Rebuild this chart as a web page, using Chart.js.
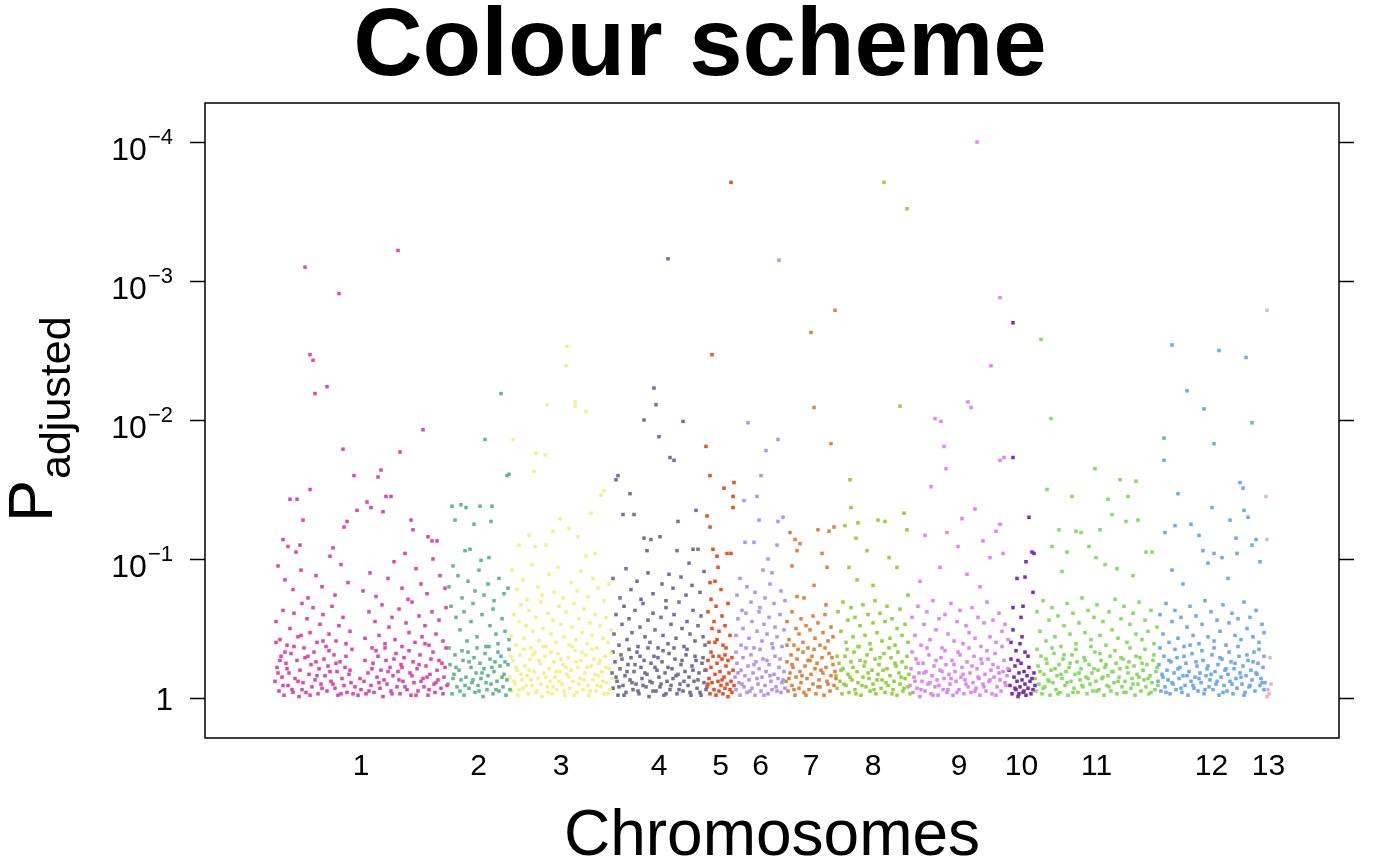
<!DOCTYPE html>
<html>
<head>
<meta charset="utf-8">
<script src="https://cdn.jsdelivr.net/npm/chart.js@4/dist/chart.umd.min.js"></script>
<style>
  html, body { margin: 0; padding: 0; background: #fff; }
  #wrap { width: 1400px; height: 866px; }
</style>
</head>
<body>
<div id="wrap"><canvas id="manhattanChart" width="1400" height="866"></canvas></div>
<script>
// Chromosome layout (cumulative position units)
const chromosomes = ['1', '2', '3', '4', '5', '6', '7', '8', '9', '10', '11', '12', '13'];
const chrStart = [0, 172, 235, 337, 431, 460, 511, 561, 635, 733, 760, 883, 990];
const chrEnd = [172, 235, 337, 431, 460, 511, 561, 635, 733, 760, 883, 990, 997];
const chrColors = ['#DD4BAA', '#66B98E', '#F5F08C', '#76709A', '#E8522A', '#B096F2', '#DF8447',
                   '#94D240', '#DC88EE', '#7B2FB5', '#89DB66', '#72A8EE', '#DBBCC6'];

// y axis: -log10(P adjusted)
const yTicks = [0, 1, 2, 3, 4];
const yTickExp = ['', '\u22121', '\u22122', '\u22123', '\u22124'];

// [position, -log10(P adjusted)] per chromosome
const chr1Points = [
  [30,3.10],[64,2.91],[123,3.22],[35,2.47],[38,2.43],[52,2.24],[40,2.19],[68,1.79],[148,1.93],[125,1.77],
  [79,1.60],[106,1.64],[103,1.59],[35,1.50],[15,1.43],[22,1.43],[92,1.41],[111,1.45],[82,1.35],[96,1.37],
  [108,1.34],[116,1.45],[69,1.23],[72,1.27],[136,1.28],[138,1.21],[153,1.16],[157,1.13],[162,1.13],[8,1.14],
  [13,1.09],[25,1.10],[28,1.28],
  [3,0.95],[10,0.85],[18,0.78],[26,0.92],[33,0.72],[41,0.88],[47,0.80],[55,1.02],[60,0.74],[66,0.96],
  [73,0.83],[88,0.77],[95,0.90],[101,0.73],[113,0.86],[119,0.98],[127,0.79],[133,0.71],[141,0.93],[146,0.82],
  [152,0.75],[158,1.00],[165,0.88],[170,0.79],[21,1.05],[58,1.08],[130,1.04],
  [1,0.55],[5,0.42],[8,0.63],[12,0.38],[15,0.50],[19,0.61],[23,0.44],[27,0.68],[29,0.36],[32,0.57],
  [35,0.47],[38,0.65],[42,0.40],[45,0.53],[48,0.60],[51,0.37],[54,0.46],[57,0.66],[61,0.41],[64,0.52],
  [68,0.58],[71,0.39],[75,0.48],[90,0.43],[94,0.62],[97,0.36],[100,0.55],[104,0.45],[107,0.67],[110,0.39],
  [114,0.51],[117,0.58],[120,0.42],[124,0.64],[127,0.37],[131,0.54],[134,0.47],[137,0.69],[140,0.40],[144,0.59],
  [147,0.44],[150,0.52],[154,0.38],[157,0.62],[161,0.46],[164,0.56],[168,0.41],[171,0.65],
  [0,0.12],[2,0.22],[4,0.05],[6,0.30],[7,0.15],[9,0.02],[11,0.25],[13,0.09],[14,0.18],[16,0.32],
  [17,0.06],[20,0.14],[22,0.27],[24,0.01],[25,0.20],[28,0.11],[30,0.29],[31,0.04],[34,0.17],[36,0.24],
  [37,0.08],[39,0.33],[40,0.13],[43,0.03],[44,0.21],[46,0.10],[49,0.28],[50,0.16],[52,0.05],[53,0.23],
  [56,0.12],[59,0.31],[60,0.07],[62,0.19],[63,0.02],[65,0.26],[67,0.14],[69,0.09],[70,0.22],[72,0.04],
  [74,0.17],[76,0.11],[78,0.03],[80,0.08],[83,0.02],[86,0.06],[89,0.12],[91,0.03],[93,0.18],[96,0.09],
  [98,0.25],[99,0.04],[102,0.15],[103,0.30],[105,0.07],[106,0.20],[108,0.01],[109,0.13],[111,0.27],[112,0.10],
  [115,0.22],[116,0.05],[118,0.16],[121,0.32],[122,0.08],[123,0.19],[125,0.03],[126,0.24],[128,0.12],[129,0.29],
  [132,0.06],[135,0.18],[136,0.02],[138,0.26],[139,0.11],[142,0.21],[143,0.05],[145,0.31],[148,0.14],[149,0.08],
  [151,0.23],[153,0.02],[155,0.17],[156,0.28],[159,0.10],[160,0.04],[162,0.20],[163,0.13],[166,0.07],[167,0.25],
  [169,0.15],[172,0.09],
  [1,0.40],[3,0.18],[5,0.27],[8,0.09],[10,0.33],[12,0.21],[18,0.04],[19,0.37],[23,0.12],[26,0.45],
  [27,0.06],[33,0.30],[35,0.02],[41,0.26],[42,0.16],[47,0.07],[48,0.41],[54,0.34],[55,0.19],[58,0.10],
  [61,0.25],[66,0.03],[71,0.30],[75,0.20],[77,0.35],[85,0.14],[90,0.27],[94,0.05],[97,0.21],[101,0.34],
  [104,0.11],[110,0.36],[113,0.19],[117,0.03],[119,0.28],[124,0.13],[127,0.22],[130,0.08],[134,0.34],[137,0.16],
  [141,0.02],[144,0.24],[146,0.12],[150,0.39],[152,0.15],[154,0.06],[158,0.33],[161,0.11],[164,0.27],[168,0.03],
  [170,0.22],[171,0.36]
];
const chr2Points = [
  [226,2.19],[210,1.86],[232,1.60],[234,1.61],[177,1.38],[186,1.39],[205,1.38],[191,1.37],[199,1.25],[217,1.38],
  [216,1.27],[180,1.28],[190,1.06],[195,1.07],[206,0.99],[214,1.01],[178,0.95],
  [174,0.80],[183,0.88],[187,0.72],[193,0.84],[200,0.77],[204,0.92],[209,0.74],[213,0.82],[219,0.70],[224,0.86],
  [229,0.75],[233,0.79],[176,0.66],[181,0.58],[185,0.49],[189,0.62],[192,0.41],[196,0.55],[198,0.68],[202,0.44],
  [207,0.60],[211,0.37],[215,0.52],[218,0.64],[221,0.46],[223,0.39],[227,0.57],[230,0.48],[234,0.42],
  [173,0.10],[175,0.24],[177,0.03],[179,0.17],[180,0.31],[182,0.08],[184,0.20],[186,0.13],[188,0.27],[189,0.02],
  [191,0.15],[193,0.33],[194,0.07],[196,0.22],[197,0.11],[199,0.29],[200,0.04],[201,0.18],[203,0.09],[205,0.25],
  [206,0.14],[208,0.01],[209,0.21],[210,0.32],[212,0.06],[213,0.16],[215,0.28],[216,0.10],[218,0.03],[219,0.19],
  [220,0.26],[222,0.12],[224,0.05],[225,0.23],[226,0.30],[228,0.08],[229,0.17],[231,0.02],[232,0.13],[233,0.24],
  [235,0.06],
  [174,0.36],[178,0.14],[181,0.22],[185,0.05],[187,0.34],[190,0.09],[194,0.26],[198,0.13],[202,0.36],[204,0.05],
  [207,0.18],[211,0.11],[214,0.37],[217,0.22],[221,0.06],[223,0.33],[227,0.15],[230,0.26],[234,0.35]
];
const chr3Points = [
  [292,2.53],[291,2.39],[300,2.13],[300,2.10],[272,2.11],[311,2.06],[238,1.86],[261,1.76],[270,1.75],[259,1.63],
  [329,1.49],[326,1.46],[316,1.33],[285,1.29],[294,1.22],[278,1.20],[254,1.17],[244,1.10],[260,1.09],[271,1.10],
  [303,1.16],[320,1.04],[311,1.02],
  [237,0.92],[242,0.78],[248,0.85],[252,0.71],[257,0.96],[263,0.80],[267,0.74],[274,0.89],[279,0.76],[283,0.94],
  [288,0.72],[296,0.83],[302,0.77],[306,0.91],[313,0.73],[318,0.86],[323,0.79],[329,0.70],[334,0.82],
  [236,0.45],[239,0.60],[241,0.38],[244,0.55],[246,0.67],[249,0.43],[251,0.52],[254,0.63],[256,0.36],[258,0.48],
  [261,0.58],[264,0.41],[266,0.69],[268,0.50],[271,0.37],[273,0.61],[276,0.46],[278,0.56],[281,0.40],[284,0.66],
  [286,0.53],[289,0.44],[291,0.62],[294,0.38],[297,0.51],[299,0.68],[301,0.42],[304,0.57],[307,0.47],[309,0.64],
  [312,0.39],[315,0.54],[317,0.45],[320,0.60],[322,0.36],[325,0.52],[328,0.43],[331,0.58],[333,0.40],[336,0.49],
  [235,0.15],[237,0.05],[238,0.27],[240,0.10],[242,0.20],[243,0.02],[245,0.31],[247,0.13],[248,0.07],[250,0.23],
  [252,0.16],[253,0.03],[255,0.28],[257,0.09],[259,0.19],[260,0.33],[262,0.05],[263,0.14],[265,0.25],[267,0.01],
  [269,0.18],[270,0.30],[272,0.08],[274,0.21],[275,0.12],[277,0.03],[279,0.26],[280,0.15],[282,0.06],[283,0.32],
  [285,0.19],[287,0.10],[288,0.24],[290,0.02],[292,0.17],[293,0.29],[295,0.07],[296,0.20],[298,0.12],[300,0.34],
  [302,0.04],[303,0.22],[305,0.14],[306,0.27],[308,0.06],[310,0.18],[311,0.31],[313,0.09],[314,0.02],[316,0.23],
  [318,0.13],[319,0.28],[321,0.05],[323,0.16],[324,0.25],[326,0.08],[327,0.19],[329,0.03],[330,0.30],[332,0.11],
  [334,0.21],[335,0.06],[337,0.14],
  [236,0.30],[239,0.12],[241,0.22],[244,0.06],[246,0.17],[249,0.35],[251,0.09],[254,0.20],[256,0.13],[258,0.31],
  [261,0.04],[264,0.27],[266,0.10],[268,0.37],[271,0.15],[273,0.04],[276,0.33],[278,0.08],[281,0.19],[284,0.12],
  [286,0.28],[289,0.05],[291,0.22],[294,0.15],[297,0.37],[299,0.02],[301,0.26],[304,0.10],[307,0.33],[309,0.13],
  [312,0.22],[315,0.05],[317,0.35],[320,0.17],[322,0.09],[325,0.27],[328,0.12],[331,0.22],[333,0.03],[336,0.32]
];
const chr4Points = [
  [393,3.16],[379,2.23],[381,2.11],[384,1.88],[369,2.00],[408,1.99],[395,1.73],[399,1.71],[343,1.60],[341,1.57],
  [355,1.47],[348,1.32],[359,1.32],[376,1.14],[369,1.15],[403,1.27],[421,1.35],[418,1.07],[423,1.07],[385,1.16],
  [402,1.06],[414,0.97],[394,0.89],[372,1.06],
  [338,0.86],[345,0.72],[351,0.93],[356,0.78],[362,0.84],[366,0.71],[373,0.90],[378,0.75],[387,0.82],[391,0.70],
  [398,0.79],[406,0.87],[411,0.74],[417,0.81],[425,0.76],[429,0.91],
  [339,0.46],[341,0.60],[344,0.38],[347,0.53],[349,0.66],[352,0.42],[354,0.57],[357,0.47],[360,0.63],[363,0.37],
  [365,0.51],[368,0.68],[370,0.44],[373,0.56],[375,0.40],[378,0.61],[380,0.49],[383,0.36],[386,0.58],[388,0.45],
  [391,0.65],[393,0.39],[396,0.53],[399,0.60],[401,0.43],[404,0.69],[407,0.50],[409,0.37],[412,0.55],[415,0.46],
  [418,0.63],[420,0.41],[423,0.52],[426,0.59],[428,0.44],[430,0.38],
  [337,0.18],[338,0.07],[340,0.26],[342,0.12],[343,0.02],[345,0.21],[346,0.31],[348,0.09],[350,0.16],[351,0.04],
  [353,0.24],[355,0.13],[356,0.29],[358,0.06],[359,0.19],[361,0.10],[362,0.33],[364,0.03],[366,0.22],[367,0.14],
  [369,0.27],[371,0.08],[372,0.17],[374,0.01],[376,0.25],[377,0.11],[379,0.30],[381,0.05],[382,0.20],[384,0.15],
  [385,0.08],[387,0.26],[389,0.02],[390,0.18],[392,0.12],[394,0.32],[395,0.06],[397,0.21],[398,0.14],[400,0.28],
  [402,0.03],[403,0.17],[405,0.10],[406,0.24],[408,0.05],[410,0.19],[411,0.31],[413,0.09],[414,0.15],[416,0.02],
  [417,0.23],[419,0.12],[421,0.27],[422,0.07],[424,0.18],[425,0.04],[427,0.25],[429,0.11],[430,0.20],[431,0.06],
  [338,0.33],[341,0.15],[344,0.08],[347,0.28],[349,0.02],[352,0.19],[354,0.35],[357,0.11],[360,0.24],[363,0.05],
  [365,0.30],[368,0.09],[370,0.18],[373,0.36],[375,0.12],[378,0.05],[380,0.22],[383,0.29],[386,0.10],[388,0.34],
  [391,0.03],[393,0.22],[396,0.09],[399,0.36],[401,0.16],[404,0.06],[407,0.27],[409,0.12],[412,0.35],[415,0.04],
  [418,0.20],[420,0.30],[423,0.13],[426,0.02],[428,0.29]
];
const chr5Points = [
  [456,3.71],[437,2.47],[431,1.81],[435,1.60],[449,1.51],[459,1.55],[458,1.45],[458,1.37],[432,1.31],[435,1.23],
  [438,1.07],[442,1.02],[452,1.04],[456,1.04],[443,0.94],[440,0.84],[435,0.83],[446,0.78],
  [433,0.62],[436,0.71],[439,0.55],[441,0.66],[444,0.48],[447,0.59],[450,0.52],[453,0.68],[455,0.45],[437,0.50],
  [442,0.42],[448,0.38],[434,0.40],[451,0.36],
  [431,0.20],[432,0.08],[433,0.27],[434,0.14],[435,0.03],[436,0.22],[437,0.11],[438,0.30],[439,0.06],[440,0.17],
  [441,0.02],[442,0.25],[443,0.12],[444,0.05],[445,0.19],[446,0.09],[447,0.28],[448,0.03],[449,0.15],[450,0.07],
  [451,0.23],[452,0.10],[453,0.01],[454,0.18],[455,0.06],[456,0.12],[457,0.04],[458,0.20],[459,0.09],
  [433,0.10],[436,0.33],[440,0.40],[444,0.30],[447,0.13],[450,0.31],[453,0.27],[457,0.29]
];
const chr6Points = [
  [504,3.15],[473,1.98],[503,1.86],[491,1.78],[486,1.60],[482,1.45],[469,1.42],[484,1.28],[503,1.27],[508,1.30],
  [470,1.12],[479,1.12],[502,1.10],[493,1.00],[488,0.92],[465,0.86],[497,0.90],
  [462,0.74],[467,0.63],[472,0.80],[476,0.69],[480,0.76],[485,0.65],[490,0.72],[495,0.82],[499,0.68],[506,0.77],
  [510,0.70],
  [461,0.45],[463,0.57],[466,0.38],[468,0.50],[471,0.61],[474,0.43],[477,0.55],[479,0.36],[482,0.48],[484,0.62],
  [487,0.41],[489,0.53],[492,0.46],[494,0.58],[497,0.39],[500,0.51],[502,0.44],[505,0.60],[507,0.37],[509,0.49],
  [460,0.15],[461,0.06],[462,0.25],[464,0.11],[465,0.02],[466,0.20],[468,0.29],[469,0.08],[470,0.16],[472,0.04],
  [473,0.23],[474,0.13],[476,0.31],[477,0.07],[478,0.18],[480,0.02],[481,0.26],[483,0.10],[484,0.21],[486,0.05],
  [487,0.15],[488,0.28],[490,0.09],[491,0.19],[493,0.03],[494,0.24],[496,0.12],[497,0.06],[499,0.17],[500,0.30],
  [501,0.08],[503,0.14],[504,0.22],[506,0.04],[507,0.11],[509,0.19],[510,0.07],
  [461,0.33],[463,0.18],[467,0.10],[471,0.36],[475,0.05],[479,0.24],[482,0.14],[485,0.35],[489,0.02],[492,0.27],
  [495,0.16],[498,0.36],[502,0.05],[505,0.28],[508,0.13]
];
const chr7Points = [
  [560,2.79],[536,2.63],[539,2.09],[556,1.83],[559,1.23],[543,1.21],[554,1.20],[515,1.19],[520,1.14],[525,1.11],
  [522,1.06],[547,1.04],[517,0.95],[552,0.94],[539,0.81],[522,0.73],[551,0.67],[529,0.72],
  [512,0.55],[514,0.42],[517,0.62],[519,0.38],[521,0.50],[524,0.46],[526,0.57],[528,0.40],[531,0.52],[533,0.36],
  [535,0.49],[538,0.59],[540,0.43],[543,0.54],[545,0.38],[548,0.47],[550,0.60],[553,0.41],[556,0.51],[558,0.44],
  [511,0.12],[512,0.26],[513,0.05],[515,0.18],[516,0.31],[517,0.09],[518,0.22],[520,0.02],[521,0.15],[522,0.28],
  [524,0.07],[525,0.19],[526,0.11],[528,0.33],[529,0.04],[530,0.23],[532,0.14],[533,0.27],[534,0.06],[536,0.17],
  [537,0.30],[538,0.10],[540,0.21],[541,0.03],[542,0.25],[544,0.13],[545,0.08],[547,0.29],[548,0.18],[549,0.02],
  [551,0.22],[552,0.12],[554,0.32],[555,0.05],[556,0.16],[558,0.24],[559,0.09],[561,0.14],
  [512,0.38],[514,0.14],[517,0.24],[519,0.06],[523,0.35],[527,0.16],[531,0.02],[535,0.27],[539,0.35],[543,0.08],
  [546,0.20],[550,0.36],[553,0.10],[557,0.29],[560,0.19]
];
const chr8Points = [
  [609,3.71],[632,3.52],[625,2.10],[575,1.57],[576,1.37],[570,1.24],[583,1.26],[581,1.15],[603,1.28],[610,1.27],
  [629,1.33],[632,1.21],[592,1.06],[614,1.01],[622,0.94],[582,0.85],[574,0.94],[633,0.74],[598,0.81],
  [563,0.62],[566,0.48],[568,0.69],[571,0.40],[573,0.56],[576,0.65],[578,0.44],[580,0.58],[583,0.37],[585,0.52],
  [588,0.67],[590,0.45],[593,0.60],[595,0.39],[598,0.54],[600,0.70],[602,0.47],[605,0.61],[607,0.41],[610,0.55],
  [612,0.66],[615,0.43],[617,0.57],[620,0.38],[622,0.50],[625,0.64],[627,0.45],[630,0.53],[633,0.40],
  [561,0.16],[562,0.07],[564,0.25],[565,0.12],[567,0.03],[568,0.21],[570,0.30],[571,0.09],[573,0.17],[574,0.04],
  [576,0.26],[577,0.13],[579,0.33],[580,0.06],[582,0.19],[583,0.11],[585,0.27],[586,0.02],[588,0.15],[589,0.23],
  [591,0.08],[592,0.31],[594,0.14],[595,0.05],[597,0.20],[598,0.10],[600,0.28],[601,0.03],[603,0.17],[604,0.24],
  [606,0.07],[607,0.13],[609,0.32],[610,0.04],[612,0.21],[613,0.09],[615,0.16],[616,0.29],[618,0.06],[619,0.12],
  [621,0.23],[622,0.02],[624,0.18],[625,0.10],[627,0.26],[628,0.05],[630,0.14],[631,0.22],[633,0.08],[634,0.17],
  [635,0.03],
  [562,0.30],[566,0.20],[569,0.10],[572,0.35],[575,0.15],[578,0.22],[581,0.03],[584,0.37],[587,0.09],[590,0.26],
  [593,0.18],[596,0.35],[599,0.06],[602,0.13],[605,0.29],[608,0.20],[611,0.11],[614,0.36],[617,0.03],[620,0.25],
  [623,0.33],[626,0.15],[629,0.07],[632,0.30]
];
const chr9Points = [
  [702,4.00],[725,2.88],[716,2.39],[693,2.13],[696,2.09],[660,2.01],[666,1.99],[669,1.81],[671,1.65],[729,1.73],
  [725,1.71],[656,1.52],[700,1.36],[687,1.29],[672,1.19],[650,1.17],[721,1.20],[708,1.13],[725,1.25],[683,1.09],
  [692,0.89],[665,0.94],[728,1.04],[715,1.01],[645,0.84],[705,0.80],
  [637,0.58],[640,0.45],[643,0.66],[646,0.38],[649,0.53],[652,0.62],[655,0.42],[658,0.70],[661,0.49],[664,0.57],
  [667,0.36],[670,0.60],[673,0.46],[676,0.68],[679,0.41],[682,0.55],[685,0.63],[688,0.39],[691,0.52],[694,0.47],
  [697,0.65],[700,0.43],[703,0.58],[706,0.37],[709,0.54],[712,0.69],[715,0.44],[718,0.56],[721,0.40],[724,0.61],
  [727,0.48],[730,0.53],[733,0.42],
  [635,0.09],[636,0.21],[638,0.04],[639,0.15],[641,0.28],[642,0.07],[644,0.18],[645,0.01],[647,0.12],[648,0.25],
  [650,0.05],[651,0.19],[653,0.10],[654,0.31],[656,0.03],[657,0.16],[659,0.23],[660,0.08],[662,0.13],[663,0.02],
  [665,0.20],[666,0.29],[668,0.06],[669,0.14],[671,0.24],[672,0.04],[674,0.17],[675,0.10],[677,0.27],[678,0.02],
  [680,0.19],[681,0.12],[683,0.33],[684,0.06],[686,0.15],[687,0.22],[689,0.03],[690,0.13],[692,0.26],[693,0.08],
  [695,0.18],[696,0.04],[698,0.11],[699,0.30],[701,0.07],[702,0.21],[704,0.14],[705,0.02],[707,0.25],[708,0.10],
  [710,0.17],[711,0.05],[713,0.28],[714,0.12],[716,0.20],[717,0.03],[719,0.15],[720,0.32],[722,0.08],[723,0.22],
  [725,0.13],[726,0.05],[728,0.19],[729,0.27],[731,0.09],[732,0.16],
  [637,0.33],[640,0.12],[643,0.25],[646,0.06],[649,0.18],[652,0.36],[655,0.11],[658,0.02],[661,0.27],[664,0.09],
  [667,0.19],[670,0.34],[673,0.06],[676,0.14],[679,0.24],[682,0.04],[685,0.31],[688,0.17],[691,0.10],[694,0.36],
  [697,0.23],[700,0.05],[703,0.15],[706,0.28],[709,0.08],[712,0.34],[715,0.13],[718,0.24],[721,0.02],[724,0.18],
  [727,0.37],[730,0.11],[733,0.21]
];
const chr10Points = [
  [738,2.70],[738,1.73],[754,1.30],[759,1.04],[757,1.05],[751,0.98],[742,0.86],[750,0.87],[758,0.76],[738,0.65],
  [748,0.66],[746,0.58],[738,0.49],[747,0.44],[745,0.39],[750,0.33],[743,0.27],[736,0.40],[741,0.34],[753,0.30],
  [734,0.20],[735,0.09],[736,0.28],[737,0.03],[739,0.15],[740,0.23],[741,0.06],[742,0.12],[743,0.01],[744,0.18],
  [745,0.08],[746,0.25],[747,0.13],[748,0.04],[749,0.19],[750,0.10],[751,0.02],[752,0.16],[753,0.07],[754,0.22],
  [755,0.12],[756,0.03],[757,0.14],[758,0.06],[759,0.18],[760,0.09],[740,0.07],[744,0.03],[749,0.05]
];
const chr11Points = [
  [766,2.58],[776,2.01],[820,1.65],[772,1.50],[797,1.45],[845,1.57],[861,1.56],[853,1.45],[833,1.43],[837,1.32],
  [825,1.21],[851,1.27],[863,1.28],[784,1.21],[801,1.20],[806,1.19],[777,1.09],[792,1.05],[814,1.09],[821,1.01],
  [871,1.05],[877,1.05],[830,0.96],[787,0.91],[858,0.88],[842,0.93],
  [762,0.62],[765,0.48],[768,0.70],[771,0.41],[774,0.56],[777,0.65],[780,0.44],[783,0.59],[786,0.37],[789,0.52],
  [792,0.68],[795,0.46],[798,0.61],[801,0.39],[804,0.54],[807,0.72],[810,0.47],[813,0.63],[816,0.42],[819,0.58],
  [822,0.67],[825,0.45],[828,0.55],[831,0.38],[834,0.62],[837,0.49],[840,0.71],[843,0.43],[846,0.57],[849,0.66],
  [852,0.40],[855,0.53],[858,0.61],[861,0.46],[864,0.69],[867,0.42],[870,0.56],[873,0.48],[876,0.63],[879,0.39],
  [882,0.51],
  [760,0.14],[761,0.05],[763,0.23],[764,0.10],[766,0.30],[767,0.03],[769,0.17],[770,0.08],[772,0.25],[773,0.13],
  [775,0.02],[776,0.20],[778,0.11],[779,0.32],[781,0.06],[782,0.16],[784,0.24],[785,0.04],[787,0.14],[788,0.28],
  [790,0.09],[791,0.19],[793,0.02],[794,0.22],[796,0.12],[797,0.31],[799,0.07],[800,0.17],[802,0.26],[803,0.04],
  [805,0.13],[806,0.21],[808,0.08],[809,0.29],[811,0.15],[812,0.03],[814,0.24],[815,0.10],[817,0.18],[818,0.05],
  [820,0.33],[821,0.12],[823,0.20],[824,0.06],[826,0.27],[827,0.14],[829,0.02],[830,0.22],[832,0.09],[833,0.16],
  [835,0.30],[836,0.05],[838,0.19],[839,0.11],[841,0.25],[842,0.03],[844,0.15],[845,0.21],[847,0.08],[848,0.28],
  [850,0.12],[851,0.04],[853,0.18],[854,0.26],[856,0.07],[857,0.14],[859,0.23],[860,0.02],[862,0.17],[863,0.10],
  [865,0.29],[866,0.05],[868,0.20],[869,0.13],[871,0.08],[872,0.24],[874,0.03],[875,0.16],[877,0.11],[878,0.27],
  [880,0.06],[881,0.19],[883,0.09],
  [762,0.35],[765,0.19],[768,0.07],[771,0.28],[774,0.12],[777,0.36],[780,0.21],[783,0.03],[786,0.17],[789,0.31],
  [792,0.11],[795,0.25],[798,0.04],[801,0.35],[804,0.18],[807,0.09],[810,0.27],[813,0.14],[816,0.37],[819,0.21],
  [822,0.05],[825,0.32],[828,0.15],[831,0.24],[834,0.08],[837,0.19],[840,0.34],[843,0.12],[846,0.29],[849,0.04],
  [852,0.22],[855,0.36],[858,0.10],[861,0.30],[864,0.15],[867,0.25],[870,0.35],[873,0.14],[876,0.04],[879,0.31],
  [882,0.22]
];
const chr12Points = [
  [897,2.54],[944,2.50],[971,2.45],[912,2.21],[929,2.08],[977,1.98],[889,1.87],[939,1.83],[889,1.71],[903,1.47],
  [965,1.55],[968,1.51],[969,1.35],[937,1.37],[973,1.30],[916,1.25],[955,1.28],[890,1.19],[900,1.24],[924,1.17],
  [928,1.06],[939,1.04],[961,1.15],[977,1.10],[981,1.14],[962,1.04],[933,0.97],[947,1.01],[897,0.92],[985,0.98],
  [953,0.86],[908,0.82],
  [885,0.60],[888,0.46],[891,0.68],[894,0.40],[897,0.55],[900,0.63],[903,0.43],[906,0.58],[909,0.37],[912,0.51],
  [915,0.66],[918,0.45],[921,0.59],[924,0.39],[927,0.53],[930,0.70],[933,0.44],[936,0.62],[939,0.41],[942,0.56],
  [945,0.48],[948,0.67],[951,0.38],[954,0.54],[957,0.61],[960,0.45],[963,0.57],[966,0.42],[969,0.69],[972,0.50],
  [975,0.58],[978,0.44],[981,0.63],[984,0.40],[987,0.53],[989,0.47],
  [883,0.12],[884,0.24],[886,0.05],[887,0.17],[889,0.30],[890,0.08],[892,0.20],[893,0.13],[895,0.03],[896,0.26],
  [898,0.10],[899,0.18],[901,0.06],[902,0.29],[904,0.14],[905,0.22],[907,0.04],[908,0.16],[910,0.09],[911,0.25],
  [913,0.02],[914,0.19],[916,0.12],[917,0.32],[919,0.07],[920,0.15],[922,0.23],[923,0.05],[925,0.18],[926,0.11],
  [928,0.27],[929,0.03],[931,0.16],[932,0.21],[934,0.08],[935,0.13],[937,0.31],[938,0.06],[940,0.19],[941,0.10],
  [943,0.24],[944,0.02],[946,0.15],[947,0.28],[949,0.09],[950,0.20],[952,0.05],[953,0.17],[955,0.12],[956,0.26],
  [958,0.03],[959,0.21],[961,0.14],[962,0.07],[964,0.30],[965,0.18],[967,0.10],[968,0.23],[970,0.04],[971,0.16],
  [973,0.27],[974,0.08],[976,0.20],[977,0.13],[979,0.33],[980,0.05],[982,0.17],[983,0.25],[985,0.09],[986,0.14],
  [988,0.22],[989,0.06],[990,0.11],
  [885,0.36],[888,0.15],[891,0.04],[894,0.27],[897,0.11],[900,0.35],[903,0.21],[906,0.07],[909,0.30],[912,0.16],
  [915,0.38],[918,0.09],[921,0.26],[924,0.14],[927,0.34],[930,0.06],[933,0.23],[936,0.17],[939,0.36],[942,0.12],
  [945,0.29],[948,0.04],[951,0.21],[954,0.33],[957,0.10],[960,0.25],[963,0.37],[966,0.15],[969,0.02],[972,0.31],
  [975,0.09],[978,0.26],[981,0.18],[984,0.35],[987,0.11],[989,0.30]
];
const chr13Points = [
  [992,2.79],[991,1.45],[992,1.14],[995,0.29],[993,0.06],[994,0.03],[992,0.01],[996,0.10]
];
const chrPoints = [chr1Points, chr2Points, chr3Points, chr4Points, chr5Points, chr6Points, chr7Points,
                   chr8Points, chr9Points, chr10Points, chr11Points, chr12Points, chr13Points];

const FONT = '"Liberation Sans", Arial, Helvetica, sans-serif';

// Draws the R-style frame, ticks, labels and titles
const baseGraphicsPlugin = {
  id: 'baseGraphics',
  afterDatasetsDraw(chart) {
    const { ctx, chartArea: area, scales: { x, y } } = chart;
    ctx.save();
    ctx.strokeStyle = '#000';
    ctx.fillStyle = '#000';
    ctx.lineWidth = 1.5;
    ctx.strokeRect(area.left, area.top, area.right - area.left, area.bottom - area.top);

    // y ticks on both sides, labels on the left
    yTicks.forEach((v, i) => {
      const py = Math.round(y.getPixelForValue(v)) + 0.5;
      ctx.beginPath();
      ctx.moveTo(area.left - 15, py);
      ctx.lineTo(area.left, py);
      ctx.moveTo(area.right, py);
      ctx.lineTo(area.right + 15, py);
      ctx.stroke();

      const xRight = area.left - 32;
      ctx.textAlign = 'right';
      ctx.textBaseline = 'alphabetic';
      if (!yTickExp[i]) {
        ctx.font = '31px ' + FONT;
        ctx.fillText('1', xRight, py + 11);
      } else {
        ctx.font = '22px ' + FONT;
        const w = ctx.measureText(yTickExp[i]).width;
        ctx.fillText(yTickExp[i], xRight, py + 1);
        ctx.font = '32px ' + FONT;
        ctx.fillText('10', xRight - w - 1, py + 17);
      }
    });

    // chromosome labels at the middle of each chromosome
    ctx.font = '30px ' + FONT;
    ctx.textAlign = 'center';
    chromosomes.forEach((name, i) => {
      const px = x.getPixelForValue((chrStart[i] + chrEnd[i]) / 2);
      ctx.fillText(name, px, area.bottom + 37);
    });

    // main title
    ctx.font = 'bold 96px ' + FONT;
    ctx.fillText('Colour scheme', chart.width / 2, 75);

    // x title
    ctx.font = '64px ' + FONT;
    ctx.fillText('Chromosomes', (area.left + area.right) / 2, 855);

    // y title: P with subscript "adjusted"
    ctx.translate(52, 522);
    ctx.rotate(-Math.PI / 2);
    ctx.textAlign = 'left';
    ctx.font = '63px ' + FONT;
    ctx.fillText('P', 0, 0);
    const pw = ctx.measureText('P').width;
    ctx.font = '43px ' + FONT;
    ctx.fillText('adjusted', pw + 1, 18);
    ctx.restore();
  }
};

const datasets = chrPoints.map((pts, i) => ({
  label: 'Chr ' + chromosomes[i],
  data: pts.map(([pos, val]) => ({ x: pos, y: val })),
  backgroundColor: chrColors[i],
  borderWidth: 0,
  pointStyle: 'rect',
  pointRadius: 2.5,
  pointHoverRadius: 2.5
}));

new Chart(document.getElementById('manhattanChart').getContext('2d'), {
  type: 'scatter',
  data: { datasets: datasets },
  options: {
    responsive: false,
    animation: false,
    events: [],
    layout: { padding: { left: 205, right: 61, top: 103, bottom: 128 } },
    plugins: { legend: { display: false }, tooltip: { enabled: false }, title: { display: false } },
    scales: {
      x: { type: 'linear', min: -70, max: 1064, display: false },
      y: { type: 'linear', min: -0.288, max: 4.281, display: false }
    }
  },
  plugins: [baseGraphicsPlugin]
});
</script>
</body>
</html>
